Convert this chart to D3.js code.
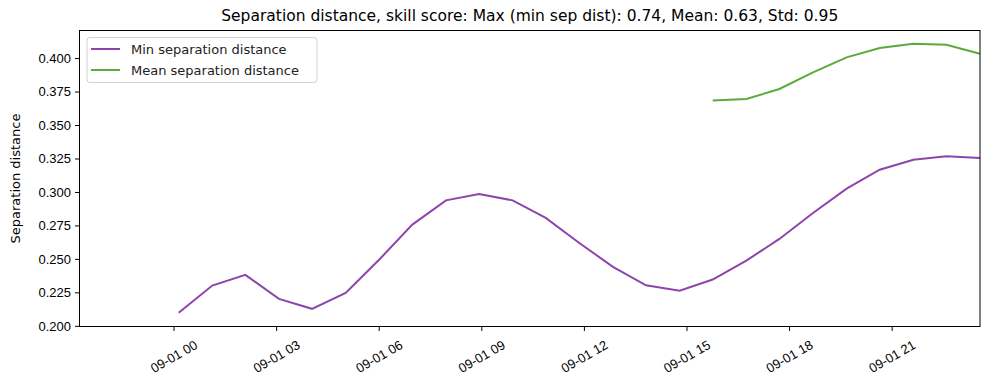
<!DOCTYPE html>
<html>
<head>
<meta charset="utf-8">
<script src="https://cdn.jsdelivr.net/npm/d3@7"></script>
<style>
  body { margin: 0; background: #fff; }
  svg { font-family: "DejaVu Sans", sans-serif; }
</style>
</head>
<body>
<div id="chart"></div>
<script>
const width = 989;
const height = 390;

// data
const times = [
  "2023-09-01T00:09", "2023-09-01T01:08", "2023-09-01T02:06", "2023-09-01T03:05",
  "2023-09-01T04:03", "2023-09-01T05:02", "2023-09-01T06:01", "2023-09-01T06:59",
  "2023-09-01T07:58", "2023-09-01T08:56", "2023-09-01T09:55", "2023-09-01T10:53",
  "2023-09-01T11:52", "2023-09-01T12:51", "2023-09-01T13:49", "2023-09-01T14:48",
  "2023-09-01T15:46", "2023-09-01T16:45", "2023-09-01T17:43", "2023-09-01T18:42",
  "2023-09-01T19:41", "2023-09-01T20:39", "2023-09-01T21:38", "2023-09-01T22:36",
  "2023-09-01T23:35"
];
const minSep = [0.2097, 0.2301, 0.2381, 0.2201, 0.2127, 0.2246, 0.2495, 0.2756,
  0.2937, 0.2985, 0.2937, 0.2806, 0.2619, 0.2440, 0.2303, 0.2263,
  0.2346, 0.2487, 0.2649, 0.2843, 0.3025, 0.3166, 0.3241, 0.3266, 0.3254];
const meanSep = [null, null, null, null, null, null, null, null,
  null, null, null, null, null, null, null, null,
  0.3684, 0.3694, 0.3769, 0.3893, 0.4005, 0.4075, 0.4107, 0.4099, 0.4032];
const xStart = "2023-08-31T21:15";
const xEnd = "2023-09-01T23:35";
const yTicks = [0.200, 0.225, 0.250, 0.275, 0.300, 0.325, 0.350, 0.375, 0.400];
const seriesNames = ["Min separation distance", "Mean separation distance"];
const seriesColors = ["#8e44ad", "#5aab3c"];
const title = "Separation distance, skill score: Max (min sep dist): 0.74, Mean: 0.63, Std: 0.95";

const parse = d3.utcParse("%Y-%m-%dT%H:%M");
const m = { left: 79.5, right: 9, top: 30.5, bottom: 63.5 };

const svg = d3.select("#chart").append("svg")
  .attr("width", width)
  .attr("height", height);

const x = d3.scaleUtc()
  .domain([parse(xStart), parse(xEnd)])
  .range([m.left, width - m.right]);

const y = d3.scaleLinear()
  .domain([0.1995, 0.4206])
  .range([height - m.bottom, m.top]);

const rows = times.map((t, i) => ({ t: parse(t), min: minSep[i], mean: meanSep[i] }));

// x axis
const xAxis = d3.axisBottom(x)
  .ticks(d3.utcHour.every(3))
  .tickSizeInner(4.5)
  .tickSizeOuter(0)
  .tickFormat(d3.utcFormat("%m-%d %H"));

const gx = svg.append("g")
  .attr("transform", "translate(0," + (height - m.bottom) + ")")
  .call(xAxis);
gx.select(".domain").remove();
gx.selectAll(".tick line").attr("stroke", "#000").attr("stroke-width", 1);
gx.selectAll(".tick text")
  .attr("y", null).attr("dy", null)
  .attr("font-size", 13)
  .attr("fill", "#000")
  .attr("text-anchor", "middle")
  .attr("dominant-baseline", "central")
  .attr("transform", "translate(0,30) rotate(-30)");

// y axis
const yAxis = d3.axisLeft(y)
  .tickValues(yTicks)
  .tickSizeInner(4.5)
  .tickSizeOuter(0)
  .tickPadding(4)
  .tickFormat(d3.format(".3f"));

const gy = svg.append("g")
  .attr("transform", "translate(" + m.left + ",0)")
  .call(yAxis);
gy.select(".domain").remove();
gy.selectAll(".tick line").attr("stroke", "#000");
gy.selectAll(".tick text").attr("font-size", 13).attr("fill", "#000");

svg.append("text")
  .attr("transform", "translate(20," + ((m.top + height - m.bottom) / 2) + ") rotate(-90)")
  .attr("text-anchor", "middle")
  .attr("font-size", 13)
  .text("Separation distance");

// lines
const lineMin = d3.line().x(d => x(d.t)).y(d => y(d.min));
const lineMean = d3.line().defined(d => d.mean != null).x(d => x(d.t)).y(d => y(d.mean));

svg.append("path").datum(rows)
  .attr("fill", "none")
  .attr("stroke", seriesColors[0])
  .attr("stroke-width", 2)
  .attr("d", lineMin);

svg.append("path").datum(rows)
  .attr("fill", "none")
  .attr("stroke", seriesColors[1])
  .attr("stroke-width", 2)
  .attr("d", lineMean);

// frame
svg.append("rect")
  .attr("x", m.left).attr("y", m.top)
  .attr("width", width - m.left - m.right)
  .attr("height", height - m.top - m.bottom)
  .attr("fill", "none")
  .attr("stroke", "#000")
  .attr("stroke-width", 1);

// title
svg.append("text")
  .attr("x", (m.left + width - m.right) / 2)
  .attr("y", 21)
  .attr("text-anchor", "middle")
  .attr("font-size", 15.5)
  .text(title);

// legend
const lg = svg.append("g").attr("transform", "translate(87,37.5)");
lg.append("rect")
  .attr("width", 230).attr("height", 45)
  .attr("rx", 3)
  .attr("fill", "#fff").attr("fill-opacity", 0.8)
  .attr("stroke", "#d0d0d0");

lg.selectAll("line.key")
  .data(seriesNames)
  .enter()
  .append("line")
  .attr("class", "key")
  .attr("x1", 4).attr("x2", 33)
  .attr("y1", (d, i) => 11.5 + i * 21)
  .attr("y2", (d, i) => 11.5 + i * 21)
  .attr("stroke", (d, i) => seriesColors[i])
  .attr("stroke-width", 2);

lg.selectAll("text.key")
  .data(seriesNames)
  .enter()
  .append("text")
  .attr("class", "key")
  .attr("x", 44)
  .attr("y", (d, i) => 11.5 + i * 21)
  .attr("dominant-baseline", "central")
  .attr("font-size", 13)
  .attr("fill", "#222")
  .text(d => d);
</script>
</body>
</html>
